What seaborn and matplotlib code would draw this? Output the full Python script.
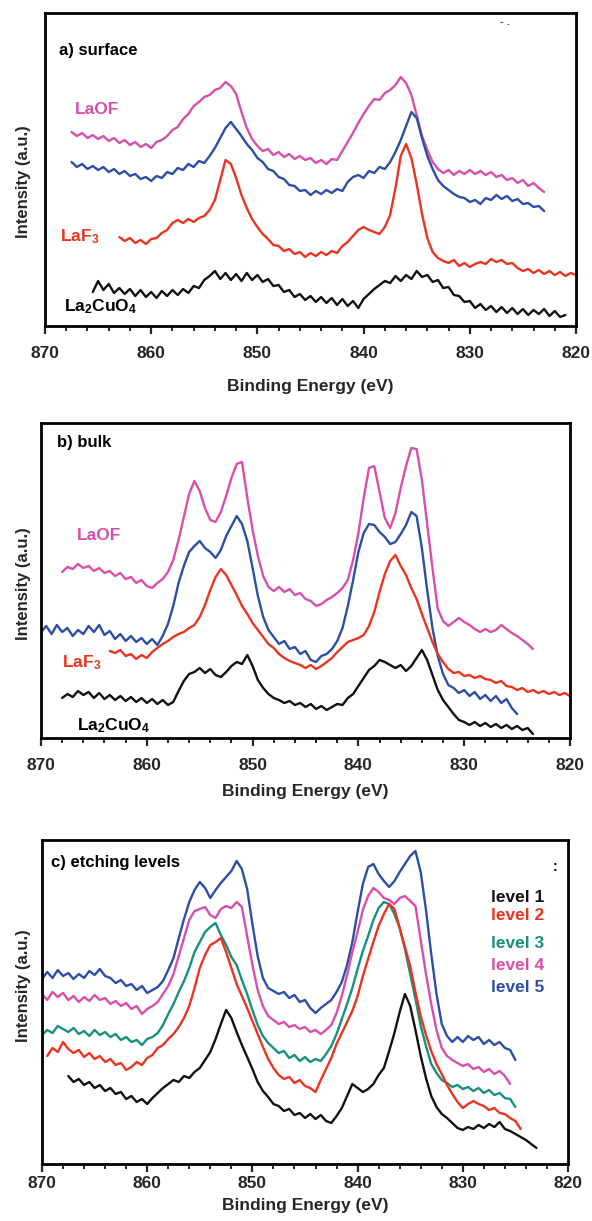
import numpy as np
import matplotlib
matplotlib.use("Agg")
import matplotlib.pyplot as plt
from matplotlib.ticker import MultipleLocator
import seaborn as sns

# ---------------- data (intensity, arbitrary units) ----------------
STEP = 0.5  # eV between points

# a) surface
a_laof_start = 867.5
a_laof = [194, 190, 193, 188, 191, 187, 190, 185, 188, 183, 186, 181, 184, 179, 182, 178, 184, 186, 190, 196,
          199, 207, 212, 220, 224, 229, 231, 236, 238, 244, 240, 232, 214, 198, 187, 180, 175, 177, 171, 174,
          169, 172, 167, 170, 166, 168, 163, 166, 162, 167, 166, 175, 184, 193, 203, 212, 220, 227, 226, 233,
          236, 241, 249, 243, 231, 211, 190, 176, 164, 157, 153, 156, 151, 155, 152, 156, 152, 155, 151, 154,
          149, 151, 146, 148, 143, 146, 140, 143, 138, 134]
a_blue_start = 867.5
a_blue = [164, 159, 162, 157, 160, 156, 159, 154, 157, 152, 155, 150, 152, 147, 149, 145, 150, 148, 154, 152,
          158, 156, 162, 159, 165, 163, 170, 178, 188, 198, 204, 197, 190, 182, 176, 168, 164, 157, 155, 149,
          147, 141, 140, 135, 136, 131, 135, 132, 136, 133, 137, 135, 144, 149, 151, 148, 155, 153, 159, 157,
          164, 174, 186, 200, 214, 208, 188, 170, 157, 146, 140, 136, 132, 129, 128, 124, 126, 122, 128, 126,
          131, 127, 130, 125, 127, 122, 123, 119, 120, 115]
a_laf3_start = 863.0
a_laf3 = [89, 85, 88, 83, 86, 82, 87, 88, 93, 96, 103, 106, 103, 107, 104, 108, 110, 116, 126, 146,
          166, 162, 148, 131, 118, 107, 99, 92, 87, 81, 80, 75, 77, 72, 74, 69, 73, 70, 74, 71,
          75, 73, 80, 84, 90, 96, 99, 96, 94, 92, 99, 111, 138, 170, 182, 168, 142, 112, 88, 74,
          68, 65, 63, 66, 60, 63, 59, 62, 64, 62, 67, 64, 66, 62, 63, 58, 55, 57, 53, 56,
          52, 55, 51, 54, 50, 53, 51]
a_lcuo_start = 865.5
a_lcuo = [34, 45, 36, 42, 33, 38, 32, 37, 30, 36, 29, 34, 28, 35, 30, 36, 31, 37, 33, 40,
          38, 46, 50, 55, 47, 53, 46, 52, 45, 53, 46, 51, 44, 47, 40, 41, 34, 36, 29, 32,
          26, 30, 24, 29, 23, 28, 21, 27, 20, 25, 18, 27, 32, 37, 41, 45, 43, 50, 45, 51,
          47, 55, 49, 51, 44, 46, 38, 39, 31, 30, 24, 25, 18, 22, 16, 20, 14, 19, 13, 18,
          12, 17, 11, 16, 12, 17, 10, 15, 9, 11]

# b) bulk
b_laof_start = 868.0
b_laof = [166, 171, 169, 174, 170, 172, 167, 170, 165, 167, 162, 165, 159, 161, 155, 158, 152, 150, 155, 159,
          166, 178, 198, 221, 244, 257, 247, 230, 218, 216, 226, 242, 260, 274, 276, 240, 208, 182, 162, 151,
          147, 151, 146, 149, 143, 145, 139, 137, 132, 134, 138, 141, 145, 150, 158, 178, 205, 240, 270, 272,
          246, 220, 210, 225, 250, 272, 290, 289, 258, 214, 170, 129, 117, 112, 116, 120, 116, 113, 109, 106,
          109, 106, 108, 113, 109, 105, 102, 98, 94, 89]
b_blue_start = 870.0
b_blue = [106, 112, 104, 113, 106, 110, 102, 108, 104, 112, 106, 113, 103, 107, 99, 104, 97, 102, 96, 100,
          94, 99, 93, 102, 114, 132, 155, 172, 186, 192, 197, 190, 186, 180, 188, 202, 212, 222, 214, 197,
          170, 142, 121, 108, 101, 94, 97, 89, 91, 84, 87, 78, 76, 82, 84, 89, 97, 110, 132, 158,
          186, 205, 214, 213, 206, 201, 194, 196, 204, 213, 226, 222, 190, 148, 110, 82, 64, 53, 50, 45,
          48, 42, 46, 39, 43, 37, 42, 35, 39, 30, 24]
b_laf3_start = 863.5
b_laf3 = [87, 85, 88, 82, 84, 79, 83, 80, 86, 90, 94, 97, 101, 104, 106, 110, 113, 121, 133, 148,
          161, 169, 163, 153, 143, 132, 124, 115, 108, 101, 94, 90, 84, 80, 77, 75, 73, 70, 73, 69,
          72, 76, 80, 86, 91, 96, 98, 100, 103, 112, 126, 146, 164, 177, 183, 172, 163, 150, 139, 124,
          110, 96, 84, 76, 69, 65, 66, 62, 63, 60, 62, 59, 58, 55, 57, 52, 51, 48, 50, 46,
          48, 45, 47, 44, 46, 43, 45, 42]
b_lcuo_start = 868.0
b_lcuo = [40, 44, 41, 47, 43, 46, 40, 45, 39, 43, 38, 42, 37, 41, 36, 40, 35, 39, 34, 38,
          33, 36, 47, 57, 64, 66, 70, 65, 69, 63, 61, 66, 72, 76, 74, 83, 72, 58, 50, 44,
          40, 38, 35, 37, 33, 35, 31, 34, 29, 32, 28, 31, 34, 33, 40, 44, 52, 60, 68, 72,
          78, 76, 73, 70, 73, 67, 72, 80, 88, 78, 63, 48, 38, 31, 24, 18, 16, 13, 16, 12,
          15, 11, 14, 10, 13, 9, 12, 8, 10, 4]

# c) etching levels
c_l5_start = 870.0
c_l5 = [185, 192, 186, 194, 188, 191, 185, 190, 186, 193, 189, 195, 188, 186, 181, 184, 178, 180, 174, 178,
        171, 174, 177, 183, 194, 206, 226, 245, 262, 274, 282, 276, 266, 274, 281, 287, 293, 303, 295, 275,
        240, 208, 186, 176, 173, 170, 172, 166, 169, 162, 164, 156, 151, 156, 160, 164, 172, 182, 199, 222,
        252, 280, 297, 300, 290, 283, 277, 283, 292, 300, 308, 313, 292, 254, 210, 170, 140, 128, 122, 127,
        122, 128, 124, 127, 120, 124, 119, 122, 116, 114, 104]
c_l4_start = 870.0
c_l4 = [170, 164, 172, 167, 171, 164, 168, 162, 167, 163, 169, 164, 166, 160, 163, 158, 161, 155, 158, 150,
        155, 158, 162, 170, 178, 190, 208, 226, 244, 253, 255, 257, 249, 246, 255, 258, 256, 262, 257, 228,
        199, 174, 158, 148, 144, 140, 142, 137, 139, 135, 137, 132, 134, 130, 134, 139, 151, 168, 189, 212,
        232, 254, 268, 276, 272, 266, 264, 260, 266, 268, 263, 258, 224, 190, 160, 134, 116, 108, 104, 101,
        98, 100, 95, 97, 92, 95, 90, 93, 88, 80]
c_l3_start = 870.0
c_l3 = [129, 134, 131, 138, 135, 132, 136, 130, 133, 128, 134, 129, 132, 127, 130, 124, 127, 122, 124, 119,
        125, 127, 131, 139, 150, 160, 172, 183, 196, 212, 222, 232, 237, 241, 229, 219, 207, 199, 184, 170,
        154, 139, 128, 121, 116, 111, 113, 106, 109, 103, 107, 102, 105, 103, 110, 118, 130, 145, 160, 176,
        195, 213, 228, 244, 256, 262, 260, 250, 236, 215, 190, 165, 138, 118, 100, 91, 84, 81, 77, 79,
        75, 77, 73, 76, 71, 74, 69, 71, 66, 65, 57]
c_l2_start = 869.5
c_l2 = [108, 116, 112, 122, 115, 111, 114, 107, 111, 105, 108, 102, 105, 99, 101, 94, 97, 102, 99, 106,
        109, 116, 119, 125, 130, 137, 146, 158, 176, 196, 209, 219, 222, 226, 212, 196, 180, 168, 156, 143,
        130, 117, 105, 96, 89, 85, 87, 81, 84, 78, 76, 72, 84, 95, 106, 120, 131, 142, 153, 168,
        188, 205, 222, 238, 250, 260, 255, 236, 217, 198, 172, 148, 129, 113, 100, 90, 79, 70, 62, 56,
        60, 63, 60, 58, 54, 56, 51, 50, 46, 43, 35]
c_l1_start = 867.5
c_l1 = [88, 82, 85, 79, 82, 76, 79, 73, 76, 70, 72, 65, 68, 62, 65, 60, 66, 71, 76, 80,
        84, 82, 88, 86, 92, 96, 104, 112, 125, 140, 154, 146, 132, 119, 107, 95, 82, 73, 67, 60,
        58, 53, 55, 49, 51, 46, 50, 45, 49, 43, 41, 48, 56, 68, 80, 76, 72, 75, 80, 89,
        96, 113, 131, 152, 170, 158, 134, 108, 86, 68, 57, 50, 46, 41, 36, 34, 37, 35, 39, 36,
        40, 37, 42, 35, 33, 30, 27, 24, 20, 16]

x_ticks = [870, 860, 850, 840, 830, 820]
level_names = ["level 1", "level 2", "level 3", "level 4", "level 5"]

# ---------------- style ----------------
MAGENTA = "#d84fab"
BLUE = "#2d4ea6"
RED = "#ea3420"
TEAL = "#16907f"
BLACK = "#111111"

sns.set_style("white")
plt.rcParams["font.family"] = ["Liberation Sans", "DejaVu Sans"]
plt.rcParams["font.weight"] = "bold"
plt.rcParams["mathtext.fontset"] = "custom"
plt.rcParams["mathtext.rm"] = "Liberation Sans:bold"
plt.rcParams["mathtext.it"] = "Liberation Sans:bold"
plt.rcParams["mathtext.bf"] = "Liberation Sans:bold"
plt.rcParams["mathtext.default"] = "rm"

W, H = 592, 1221
fig = plt.figure(figsize=(W / 100, H / 100), dpi=100)


def px_axes(left, top, right, bottom):
    return fig.add_axes([left / W, 1 - bottom / H, (right - left) / W, (bottom - top) / H])


def energies(start, vals):
    return start - STEP * np.arange(len(vals))


def draw(ax, start, vals, color):
    sns.lineplot(x=energies(start, vals), y=vals, ax=ax, color=color, lw=1.7, sort=False, estimator=None)


def style_axis(ax, height, tick_pad, label_pad, ylab_xy):
    ax.set_xlim(870, 820)
    ax.set_ylim(0, height)
    ax.set_xticks(x_ticks)
    ax.xaxis.set_minor_locator(MultipleLocator(2))
    ax.set_yticks([])
    for s in ax.spines.values():
        s.set_visible(True)
        s.set_linewidth(2.0)
        s.set_color("black")
    ax.tick_params(axis="x", which="major", direction="out", length=6, width=1.6,
                   labelsize=12.5, pad=tick_pad, bottom=True)
    ax.tick_params(axis="x", which="minor", direction="out", length=3.5, width=1.4, bottom=True)
    for lab in ax.get_xticklabels():
        lab.set_fontweight("bold")
    ax.set_xlabel("Binding Energy (eV)", fontsize=12.5, fontweight="bold", labelpad=label_pad)
    ax.set_ylabel("Intensity (a.u.)", fontsize=12, fontweight="bold")
    ax.yaxis.set_label_coords(*ylab_xy)


def label(x, y, s, color="black", size=12.5):
    fig.text(x / W, 1 - y / H, s, color=color, fontsize=size, fontweight="bold", ha="left", va="center")


# ---------------- panel a ----------------
ax_a = px_axes(45, 13, 576, 326)
draw(ax_a, a_laof_start, a_laof, MAGENTA)
draw(ax_a, a_blue_start, a_blue, BLUE)
draw(ax_a, a_laf3_start, a_laf3, RED)
draw(ax_a, a_lcuo_start, a_lcuo, BLACK)
style_axis(ax_a, 313, 8.5, 13, (-0.026, 0.46))
label(59, 50, "a) surface", size=12)
label(75, 110, "LaOF", MAGENTA)
label(60, 237, "LaF$_3$", RED)
label(64, 307, "La$_2$CuO$_4$")
label(500, 22, "- .", "#8a3a3a", size=8)  # small leftover mark in the corner

# ---------------- panel b ----------------
ax_b = px_axes(41, 423, 570, 738)
draw(ax_b, b_laof_start, b_laof, MAGENTA)
draw(ax_b, b_blue_start, b_blue, BLUE)
draw(ax_b, b_laf3_start, b_laf3, RED)
draw(ax_b, b_lcuo_start, b_lcuo, BLACK)
style_axis(ax_b, 315, 8.5, 7.5, (-0.019, 0.49))
label(57, 443, "b) bulk", size=12)
label(77, 535, "LaOF", MAGENTA)
label(62, 663, "LaF$_3$", RED)
label(77, 726, "La$_2$CuO$_4$")

# ---------------- panel c ----------------
ax_c = px_axes(42, 840, 568, 1164)
draw(ax_c, c_l5_start, c_l5, BLUE)
draw(ax_c, c_l4_start, c_l4, MAGENTA)
draw(ax_c, c_l3_start, c_l3, TEAL)
draw(ax_c, c_l2_start, c_l2, RED)
draw(ax_c, c_l1_start, c_l1, BLACK)
style_axis(ax_c, 324, 2.5, 5, (-0.021, 0.55))
label(51, 863, "c) etching levels", size=12)
label(553, 867, ":", size=10)
for name, col, yy in zip(level_names, [BLACK, RED, TEAL, MAGENTA, BLUE], [897, 915, 943, 965, 988]):
    label(491, yy, name, col)

fig.savefig("out.png", dpi=100)
